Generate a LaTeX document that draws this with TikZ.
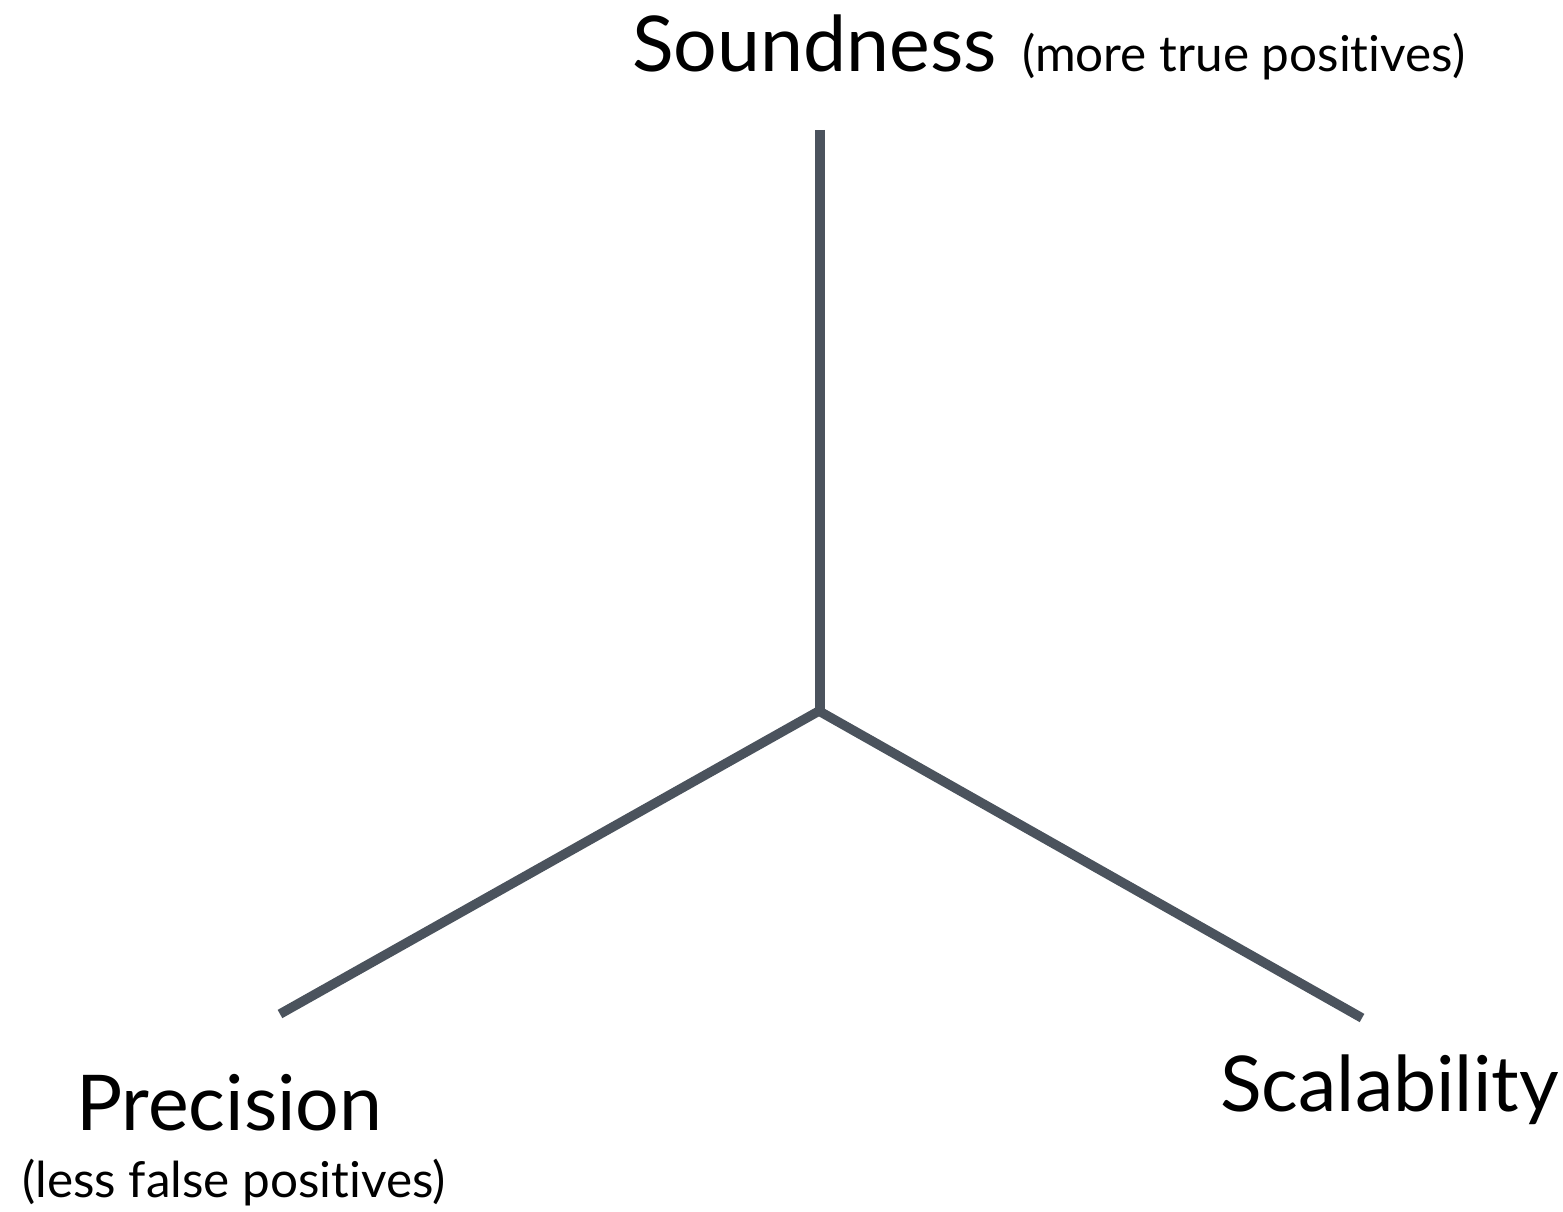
\documentclass[tikz,border=0pt]{standalone}
\usepackage{fontspec}
\setmainfont{Lato}[Ligatures={NoCommon,NoRare}]
\definecolor{axis}{HTML}{4B535D}
\begin{document}
\begin{tikzpicture}[x=1pt,y=-1pt,
  axisline/.style={draw=axis,line width=9.5pt},
  bigtxt/.style={inner sep=0pt,anchor=base west,font=\fontsize{77}{82}\selectfont},
  smalltxt/.style={inner sep=0pt,anchor=base west,font=\fontsize{49.5}{54}\selectfont}]
\useasboundingbox (0,0) rectangle (1563,1212);
\coordinate (c) at (819,711);
\coordinate (top) at (820,130);
\coordinate (left) at (280,1014);
\coordinate (right) at (1362,1018);
\draw[axisline] (top) -- (820,712);
\draw[axisline] (c) -- (left);
\draw[axisline] (c) -- (right);
\node[bigtxt] (snd) at (632,72) {Soundness};
\node[smalltxt] (sndsub) at (1022,72) {(more true positives)};
\node[bigtxt] (prec) at (76,1130) {Precision};
\node[smalltxt] (precsub) at (22,1197) {(less false positives)};
\node[bigtxt] (scal) at (1220,1111) {Scalability};
\end{tikzpicture}
\end{document}
